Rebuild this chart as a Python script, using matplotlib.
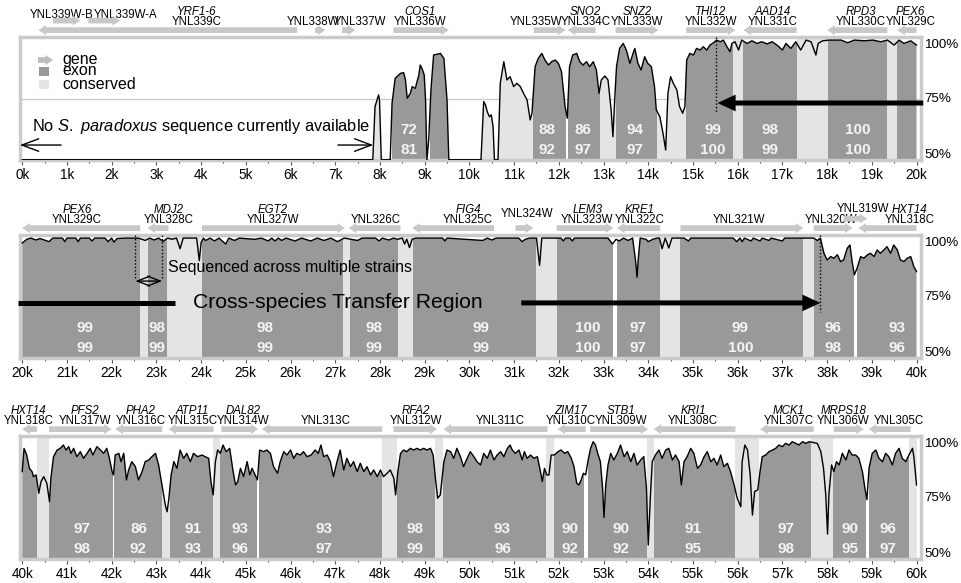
import numpy as np
import matplotlib
matplotlib.use("Agg")
import matplotlib.pyplot as plt
from matplotlib.patches import Polygon, Rectangle, FancyArrowPatch
from matplotlib.transforms import blended_transform_factory

plt.rcParams['font.family'] = ['Liberation Sans', 'DejaVu Sans']
plt.rcParams['mathtext.fontset'] = 'custom'
plt.rcParams['mathtext.rm'] = 'Liberation Sans'
plt.rcParams['mathtext.it'] = 'Liberation Sans:italic'

DARK = '#999999'
LIGHT = '#e4e4e4'
TRACK = '#c8c8c8'

# % identity along the locus (kb, %); values under 50 sit on the floor
curve_0_20 = [
    (0, 49.6), (7.84, 49.6), (7.89, 72.0), (7.97, 76.9), (7.99, 74.8), (8.03, 49.6),
    (8.23, 49.6), (8.27, 73.4), (8.34, 83.9), (8.38, 84.6), (8.46, 86.0), (8.53, 86.3),
    (8.57, 83.2), (8.61, 75.5), (8.68, 77.6), (8.72, 80.4), (8.79, 79.7), (8.87, 85.3),
    (8.90, 89.5), (8.94, 88.1), (8.99, 85.3), (9.02, 74.8), (9.05, 49.6), (9.09, 57.9),
    (9.14, 79.0), (9.20, 93.7), (9.35, 94.4), (9.43, 92.3), (9.50, 74.8), (9.54, 49.6),
    (10.26, 49.6), (10.32, 74.1), (10.36, 72.7), (10.40, 69.8), (10.45, 67.7), (10.49, 68.5),
    (10.53, 63.5), (10.56, 49.6), (10.64, 49.6), (10.69, 81.8), (10.77, 90.9), (10.84, 83.2),
    (10.91, 84.6), (10.99, 80.4), (11.06, 81.8), (11.14, 80.4), (11.21, 77.6), (11.29, 74.8),
    (11.36, 66.4), (11.40, 69.2), (11.47, 88.8), (11.54, 92.3), (11.62, 94.4), (11.69, 91.6),
    (11.77, 89.5), (11.84, 90.9), (11.92, 91.6), (11.99, 90.2), (12.06, 86.7), (12.14, 72.0),
    (12.19, 67.1), (12.24, 88.8), (12.31, 93.7), (12.40, 94.4), (12.47, 90.9), (12.54, 89.5),
    (12.62, 90.9), (12.69, 88.8), (12.77, 90.9), (12.84, 87.4), (12.90, 77.6), (12.95, 83.2),
    (13.03, 84.9), (13.10, 83.2), (13.17, 70.6), (13.21, 59.3), (13.25, 74.8), (13.29, 88.8),
    (13.36, 96.5), (13.44, 98.6), (13.51, 95.8), (13.59, 90.2), (13.66, 94.4), (13.70, 96.5),
    (13.77, 90.2), (13.84, 87.4), (13.92, 93.0), (13.99, 90.2), (14.07, 88.8), (14.14, 80.4),
    (14.18, 70.6), (14.26, 67.7), (14.33, 60.8), (14.39, 53.7), (14.44, 77.6), (14.50, 84.6),
    (14.56, 81.8), (14.64, 79.0), (14.70, 72.0), (14.77, 69.2), (14.82, 72.0), (14.86, 91.6),
    (14.93, 94.4), (15.01, 93.7), (15.08, 96.5), (15.16, 95.8), (15.23, 97.2), (15.31, 95.8),
    (15.38, 97.9), (15.46, 98.9), (15.53, 100), (15.61, 99.3), (15.68, 100), (15.76, 97.2),
    (15.83, 95.1), (15.87, 98.6), (15.94, 99.3), (16.02, 95.8), (16.09, 100), (16.21, 98.6),
    (16.32, 99.7), (16.43, 98.6), (16.54, 99.3), (16.66, 98.4), (16.77, 99.3), (16.88, 97.9),
    (17.00, 95.8), (17.08, 98.6), (17.19, 96.5), (17.30, 99.3), (17.41, 95.8), (17.53, 100),
    (17.64, 99.3), (17.75, 93.7), (17.80, 98.6), (17.90, 99.7), (18.05, 100), (18.31, 100),
    (18.46, 98.9), (18.61, 100), (18.83, 99.7), (19.02, 100), (19.20, 99.3), (19.35, 100),
    (19.50, 97.9), (19.61, 100), (19.72, 98.6), (19.87, 99.7), (20.00, 97.9),
]

curve_20_40 = [
    (20.0, 97.9), (20.1, 99.5), (20.2, 100), (20.3, 99.2), (20.4, 99.8), (20.6, 98.5),
    (20.68, 100), (20.9, 100), (20.95, 98.5), (21.0, 100), (21.2, 100), (21.25, 98.5),
    (21.3, 100), (21.5, 100), (21.56, 98.8), (21.62, 100), (21.85, 100), (21.92, 98.5),
    (22.0, 100), (22.05, 98.3), (22.12, 99.8), (22.3, 100), (22.6, 100), (22.75, 99.0),
    (22.85, 100), (22.95, 99.2), (23.05, 100), (23.15, 98.6), (23.25, 100), (23.35, 99.5),
    (23.45, 100), (23.53, 95.5), (23.6, 100), (23.9, 100), (23.96, 90.5), (24.0, 98),
    (24.05, 100), (24.1, 99), (24.2, 100), (24.3, 98.8), (24.4, 100), (24.55, 97.5),
    (24.62, 100), (24.75, 99), (24.85, 100), (25.2, 99.5), (25.35, 100), (25.5, 98.8),
    (25.58, 100), (25.65, 98.8), (25.73, 100), (25.8, 99), (25.9, 100), (26.1, 98.8),
    (26.25, 100), (26.45, 98.8), (26.6, 100), (26.75, 99), (26.9, 100), (27.05, 98.5),
    (27.2, 100), (27.5, 99), (27.6, 100), (27.9, 100), (27.98, 98.8), (28.05, 100),
    (28.2, 99.2), (28.3, 100), (28.4, 99.5), (28.5, 100), (28.55, 97.5), (28.6, 99.5),
    (28.66, 96), (28.72, 99.5), (28.8, 100), (29.4, 100), (29.45, 98.8), (29.5, 100),
    (30.3, 99), (30.4, 100), (30.5, 99.2), (30.6, 100), (31.1, 100), (31.18, 98.5),
    (31.25, 99.5), (31.35, 100), (31.5, 100), (31.57, 88.5), (31.62, 100), (32.05, 100),
    (32.1, 98.8), (32.15, 100), (32.25, 100), (32.3, 98.8), (32.35, 100), (33.1, 100),
    (33.2, 97.5), (33.28, 99.5), (33.35, 98.8), (33.45, 100), (33.55, 99), (33.65, 100),
    (33.72, 90), (33.75, 83.5), (33.78, 92), (33.82, 100), (33.95, 99.5), (34.0, 98.5),
    (34.1, 99.5), (34.2, 100), (34.25, 100), (34.31, 95.5), (34.38, 100), (34.46, 95.8),
    (34.53, 100), (34.8, 100), (34.9, 98.8), (34.95, 100), (35.9, 100), (35.98, 98.5),
    (36.05, 100), (36.1, 98.5), (36.15, 100), (36.3, 98.8), (36.35, 100), (36.5, 98.8),
    (36.55, 100), (36.7, 99), (36.75, 100), (37.0, 98.8), (37.05, 100), (37.7, 100),
    (37.78, 99), (37.85, 100), (37.93, 93.6), (38.0, 90.8), (38.08, 92.2), (38.15, 91.5),
    (38.23, 93.0), (38.3, 90.1), (38.37, 90.8), (38.45, 95.7), (38.51, 97.1), (38.56, 90.1),
    (38.61, 84.5), (38.67, 87.3), (38.75, 92.2), (38.82, 91.5), (38.9, 92.9), (38.97, 93.6),
    (39.05, 92.2), (39.12, 95.0), (39.19, 93.6), (39.27, 95.0), (39.34, 96.4), (39.42, 93.6),
    (39.49, 97.1), (39.57, 95.0), (39.64, 90.8), (39.72, 90.1), (39.79, 91.5), (39.87, 92.2),
    (39.94, 88.0), (40.0, 85.9),
]

curve_40_60 = [
    (40.0, 86.3), (40.04, 96.1), (40.1, 93.3), (40.16, 87.7), (40.22, 86.3), (40.25, 84.2),
    (40.31, 84.9), (40.37, 77.2), (40.42, 82.1), (40.48, 84.2), (40.55, 81.4), (40.61, 73.6),
    (40.64, 83.5), (40.7, 92.6), (40.78, 95.4), (40.85, 96.1), (40.92, 97.5), (40.98, 95.4),
    (41.04, 96.8), (41.09, 94.0), (41.15, 96.1), (41.22, 92.6), (41.3, 94.7), (41.37, 91.9),
    (41.45, 94.0), (41.52, 96.1), (41.58, 93.3), (41.67, 96.8), (41.75, 95.4), (41.82, 94.0),
    (41.89, 96.1), (41.95, 91.9), (42.01, 86.3), (42.04, 84.9), (42.08, 93.3), (42.16, 94.0),
    (42.21, 90.5), (42.27, 94.0), (42.33, 82.8), (42.38, 87.0), (42.45, 90.5), (42.53, 88.4),
    (42.6, 82.8), (42.68, 86.3), (42.75, 90.5), (42.83, 91.2), (42.9, 92.6), (42.98, 94.0),
    (43.05, 89.1), (43.1, 83.5), (43.15, 77.9), (43.2, 72.2), (43.24, 69.4), (43.28, 75.1),
    (43.33, 84.9), (43.39, 90.5), (43.46, 87.7), (43.53, 95.4), (43.61, 91.9), (43.68, 94.0),
    (43.76, 90.5), (43.83, 94.0), (43.92, 92.6), (44.02, 93.3), (44.09, 92.6), (44.17, 91.9),
    (44.22, 82.1), (44.27, 76.5), (44.32, 90.5), (44.37, 95.4), (44.43, 94.0), (44.49, 97.5),
    (44.56, 94.7), (44.64, 96.1), (44.71, 87.0), (44.77, 80.7), (44.82, 82.1), (44.88, 87.7),
    (44.95, 84.2), (45.03, 90.5), (45.09, 84.9), (45.14, 87.7), (45.21, 84.9), (45.26, 82.8),
    (45.31, 95.4), (45.4, 94.7), (45.47, 95.4), (45.55, 94.0), (45.62, 88.4), (45.71, 85.6),
    (45.77, 90.5), (45.85, 94.7), (45.92, 93.3), (46.0, 95.4), (46.07, 91.9), (46.14, 94.0),
    (46.22, 93.3), (46.29, 94.7), (46.37, 92.6), (46.46, 93.3), (46.55, 95.4), (46.62, 94.0),
    (46.68, 97.5), (46.74, 92.6), (46.82, 93.3), (46.89, 90.5), (46.96, 84.2), (47.04, 90.5),
    (47.11, 95.4), (47.19, 87.0), (47.26, 91.9), (47.34, 88.4), (47.41, 90.5), (47.49, 86.3),
    (47.56, 89.8), (47.64, 86.3), (47.71, 88.4), (47.79, 84.9), (47.86, 87.0), (47.94, 84.2),
    (48.01, 87.0), (48.08, 84.2), (48.16, 85.6), (48.23, 87.0), (48.31, 83.5), (48.35, 76.5),
    (48.4, 86.3), (48.46, 94.0), (48.53, 95.4), (48.6, 94.7), (48.68, 96.1), (48.75, 95.4),
    (48.83, 96.1), (48.9, 95.4), (48.98, 96.1), (49.05, 95.4), (49.13, 96.1), (49.19, 93.3),
    (49.24, 83.5), (49.29, 75.1), (49.35, 76.5), (49.43, 90.5), (49.5, 95.4), (49.58, 94.7),
    (49.65, 91.9), (49.72, 96.1), (49.8, 92.6), (49.87, 88.4), (49.95, 91.9), (50.02, 94.7),
    (50.1, 92.6), (50.17, 90.5), (50.25, 89.1), (50.32, 94.0), (50.4, 91.9), (50.47, 95.4),
    (50.55, 91.2), (50.62, 93.3), (50.7, 94.7), (50.77, 92.6), (50.85, 96.1), (50.91, 97.5),
    (50.96, 95.4), (51.03, 94.0), (51.11, 95.4), (51.18, 91.2), (51.23, 94.7), (51.29, 91.9),
    (51.37, 93.3), (51.44, 91.9), (51.52, 92.6), (51.59, 86.3), (51.63, 82.1), (51.68, 87.7),
    (51.73, 84.9), (51.78, 84.9), (51.83, 93.3), (51.9, 93.3), (51.98, 94.7), (52.05, 95.4),
    (52.13, 94.0), (52.2, 94.7), (52.28, 91.9), (52.34, 88.4), (52.4, 81.4), (52.45, 80.7),
    (52.5, 82.8), (52.55, 85.6), (52.6, 84.9), (52.65, 90.5), (52.71, 96.1), (52.77, 98.9),
    (52.82, 97.5), (52.87, 94.0), (52.93, 90.5), (52.98, 79.3), (53.01, 67.0), (53.05, 80.7),
    (53.1, 89.1), (53.16, 94.0), (53.23, 91.2), (53.31, 94.0), (53.38, 97.5), (53.46, 92.6),
    (53.53, 94.7), (53.61, 90.5), (53.68, 94.0), (53.75, 89.1), (53.83, 91.2), (53.9, 92.6),
    (53.96, 79.3), (54.0, 55.4), (54.05, 76.5), (54.09, 90.5), (54.16, 93.3), (54.24, 95.4),
    (54.31, 91.9), (54.39, 95.4), (54.46, 96.1), (54.54, 91.2), (54.61, 93.3), (54.69, 90.5),
    (54.74, 80.7), (54.8, 90.5), (54.87, 92.6), (54.95, 96.1), (55.02, 94.0), (55.1, 87.7),
    (55.17, 89.1), (55.25, 92.6), (55.32, 94.7), (55.4, 90.5), (55.47, 91.9), (55.54, 89.1),
    (55.62, 93.3), (55.69, 88.4), (55.77, 89.8), (55.84, 86.3), (55.92, 80.7), (55.99, 75.1),
    (56.07, 71.5), (56.1, 90.5), (56.16, 97.5), (56.22, 95.4), (56.28, 84.9), (56.33, 68.0),
    (56.38, 77.9), (56.45, 78.6), (56.5, 86.3), (56.55, 92.6), (56.63, 93.3), (56.7, 94.7),
    (56.78, 95.4), (56.85, 96.1), (56.92, 97.5), (57.0, 96.8), (57.07, 98.2), (57.15, 97.5),
    (57.22, 98.9), (57.3, 98.2), (57.37, 97.5), (57.45, 98.9), (57.52, 98.2), (57.6, 98.9),
    (57.71, 98.5), (57.78, 98.2), (57.86, 94.7), (57.92, 87.7), (57.97, 76.5), (58.01, 60.0),
    (58.04, 76.5), (58.1, 89.1), (58.15, 86.3), (58.21, 90.5), (58.27, 89.1), (58.34, 94.0),
    (58.42, 91.2), (58.49, 95.4), (58.56, 93.3), (58.64, 93.3), (58.71, 91.9), (58.79, 86.3),
    (58.84, 80.0), (58.89, 74.5), (58.94, 88.0), (59.01, 94.0), (59.09, 95.4), (59.16, 91.9),
    (59.24, 90.5), (59.31, 94.0), (59.38, 92.6), (59.46, 89.1), (59.53, 94.0), (59.61, 96.1),
    (59.68, 91.9), (59.76, 90.5), (59.83, 93.3), (59.91, 96.1), (59.94, 92.6), (60.0, 80.7),
]

# exons (kb)
exons = [
    (8.28, 9.02), (9.13, 9.53), (11.43, 12.15), (12.21, 12.91), (13.27, 14.2),
    (14.85, 15.9), (16.13, 17.32), (18.03, 19.35), (19.57, 22.64), (22.82, 23.24),
    (24.03, 27.18), (27.32, 28.41), (28.75, 31.48), (31.95, 33.22), (33.31, 34.27),
    (34.72, 37.45), (37.7, 38.6), (38.66, 40.33), (40.6, 42.02), (42.06, 43.13),
    (43.31, 44.27), (44.43, 45.25), (45.3, 48.05), (48.39, 49.24), (49.4, 51.72),
    (51.9, 52.57), (52.66, 53.98), (54.12, 55.93), (56.47, 57.63), (58.14, 58.86),
    (58.93, 59.84),
]

# conserved non-coding blocks: full height, and shaded only under the curve
conserved = [
    (15.9, 16.13), (17.32, 18.03), (19.35, 19.57),
    (22.64, 22.82), (23.24, 24.03), (27.18, 27.32), (28.41, 28.75), (31.48, 31.95),
    (34.27, 34.72), (37.45, 37.7),
    (40.33, 40.6), (44.27, 44.43), (48.05, 48.39), (49.24, 49.4), (51.72, 51.9),
    (53.98, 54.12), (55.93, 56.47), (57.63, 58.14), (59.84, 60.0),
]
conserved_low = [(7.8, 8.1), (10.2, 11.45), (12.9, 13.3), (14.2, 14.86), (43.1, 43.32)]

# genes: start, end (kb), strand, track row
gene_start = [0.69, 1.48, 0.36, 6.55, 7.15, 8.30, 11.44, 12.20, 13.27, 14.85, 16.13, 18.00,
              19.57, 22.80, 24.02, 27.30, 28.72, 31.03, 31.95, 33.30, 34.72, 37.70, 38.37,
              38.70, 40.60, 42.08, 43.27, 44.45, 45.36, 48.30, 49.42, 51.97, 52.70, 54.12,
              56.50, 58.15, 58.93]
gene_end = [1.30, 2.19, 6.15, 6.78, 7.45, 9.54, 12.15, 12.82, 14.23, 15.95, 17.32, 19.35,
            22.64, 23.27, 27.22, 28.46, 30.55, 31.43, 33.22, 34.27, 37.47, 38.57, 38.90,
            40.33, 42.00, 43.13, 44.28, 45.28, 48.05, 49.28, 51.75, 52.60, 54.00, 55.95,
            57.70, 58.82, 59.87]
gene_strand = ['W', 'W', 'C', 'W', 'W', 'W', 'W', 'C', 'W', 'W', 'C', 'C',
               'C', 'C', 'W', 'C', 'C', 'W', 'W', 'C', 'W', 'W', 'W',
               'C', 'W', 'C', 'C', 'W', 'C', 'W', 'C', 'C', 'W', 'C',
               'C', 'W', 'C']
gene_row = [1, 1, 0, 0, 0, 0, 0, 0, 0, 0, 0, 0,
            0, 0, 0, 0, 0, 0, 0, 0, 0, 0, 1,
            0, 0, 0, 0, 0, 0, 0, 0, 0, 0, 0,
            0, 0, 0]

# gene name labels
lab_x = [0.88, 2.31, 3.9, 6.5, 7.56, 8.9, 11.5, 12.6, 13.76, 15.4, 16.78, 18.75, 19.87,
         21.22, 23.27, 25.6, 27.9, 29.97, 31.28, 32.64, 33.8, 36.02, 38.08, 38.8, 39.85,
         40.15, 41.4, 42.65, 43.81, 44.95, 46.78, 48.8, 50.7, 52.26, 53.4, 55.0, 57.14,
         58.37, 59.6]
lab_sys = ['YNL339W-B', 'YNL339W-A', 'YNL339C', 'YNL338W', 'YNL337W', 'YNL336W', 'YNL335W',
           'YNL334C', 'YNL333W', 'YNL332W', 'YNL331C', 'YNL330C', 'YNL329C',
           'YNL329C', 'YNL328C', 'YNL327W', 'YNL326C', 'YNL325C', 'YNL324W', 'YNL323W',
           'YNL322C', 'YNL321W', 'YNL320W', 'YNL319W', 'YNL318C',
           'YNL318C', 'YNL317W', 'YNL316C', 'YNL315C', 'YNL314W', 'YNL313C', 'YNL312W',
           'YNL311C', 'YNL310C', 'YNL309W', 'YNL308C', 'YNL307C', 'YNL306W', 'YNL305C']
lab_common = ['', '', 'YRF1-6', '', '', 'COS1', '', 'SNO2', 'SNZ2', 'THI12', 'AAD14', 'RPD3', 'PEX6',
              'PEX6', 'MDJ2', 'EGT2', '', 'FIG4', '', 'LEM3', 'KRE1', '', '', '', 'HXT14',
              'HXT14', 'PFS2', 'PHA2', 'ATP11', 'DAL82', '', 'RFA2', '', 'ZIM17', 'STB1',
              'KRI1', 'MCK1', 'MRPS18', '']
lab_lift = [2.8, 2.8, 0, 0, 0, 0, 0, 0, 0, 0, 0, 0, 0,
            0, 0, 0, 0, 0, 2.5, 0, 0, 0, 0, 4.4, 0,
            0, 0, 0, 0, 0, 0, 0, 0, 0, 0, 0, 0, 0, 0]

# identity per block: top / bottom numbers
num_x = [8.64, 11.74, 12.55, 13.71, 15.45, 16.72, 18.69,
         21.41, 23.02, 25.44, 27.86, 30.25, 32.64, 33.78, 36.06, 38.14, 39.57,
         41.34, 42.6, 43.82, 44.87, 46.74, 48.79, 50.74, 52.26, 53.38, 55.01, 57.07, 58.52, 59.37]
num_top = [72, 88, 86, 94, 99, 98, 100,
           99, 98, 98, 98, 99, 100, 97, 99, 96, 93,
           97, 86, 91, 93, 93, 98, 93, 90, 90, 91, 97, 90, 96]
num_bot = [81, 92, 97, 97, 100, 99, 100,
           99, 99, 99, 99, 99, 100, 97, 100, 98, 96,
           98, 92, 93, 96, 97, 99, 96, 92, 92, 95, 98, 95, 97]

pct_ticks = ['100%', '75%', '50%']
pct_tick_y = [98.0, 75.0, 51.6]

YBOT, YTOP = 49.5, 101.3


def gene_arrow(ax, a, b, strand, y, color=TRACK):
    body, head = 1.2, 2.1
    hl = min(0.17, b - a)
    if strand == 'W':
        pts = [(a, y - body), (b - hl, y - body), (b - hl, y - head), (b, y),
               (b - hl, y + head), (b - hl, y + body), (a, y + body)]
    else:
        pts = [(b, y - body), (a + hl, y - body), (a + hl, y - head), (a, y),
               (a + hl, y + head), (a + hl, y + body), (b, y + body)]
    ax.add_patch(Polygon(pts, closed=True, fc=color, ec='none', clip_on=False, zorder=4))


def thick_arrow(ax, x0, x1, y):
    ax.add_patch(FancyArrowPatch((x0, y), (x1, y), shrinkA=0, shrinkB=0, mutation_scale=10,
                                 arrowstyle='simple,head_length=1.3,head_width=1.2,tail_width=0.36',
                                 color='black', lw=0, clip_on=False, zorder=8))


def draw_panel(ax, lo, curve):
    hi = lo + 20
    kb, pct = np.array(curve).T
    ax.set_xlim(lo - 0.05, hi + 0.1)
    ax.set_ylim(YBOT, YTOP)

    # area under the identity curve, used to clip the shading
    shape = Polygon(np.column_stack([np.r_[kb[0], kb, kb[-1]], np.r_[YBOT, pct, YBOT]]),
                    closed=True, fc='none', ec='none')
    ax.add_patch(shape)

    for s, e in conserved:
        if e > lo and s < hi:
            ax.axvspan(max(s, lo), min(e, hi), color=LIGHT, lw=0, zorder=1)
    for s, e in conserved_low:
        if e > lo and s < hi:
            r = ax.axvspan(max(s, lo), min(e, hi), color=LIGHT, lw=0, zorder=1)
            r.set_clip_path(shape)
    for s, e in exons:
        if e > lo and s < hi:
            r = ax.axvspan(max(s, lo), min(e, hi), color=DARK, lw=0, zorder=2)
            r.set_clip_path(shape)
    ax.plot(kb, pct, color='black', lw=1.0, zorder=3)

    for x, t, b in zip(num_x, num_top, num_bot):
        if lo <= x < hi:
            ax.text(x, 62.0, str(t), color='#f4f4f4', fontsize=11, fontweight='bold',
                    ha='center', va='center', zorder=6)
            ax.text(x, 53.8, str(b), color='#f4f4f4', fontsize=11, fontweight='bold',
                    ha='center', va='center', zorder=6)

    # gene track above the box
    for s, e, st, row in zip(gene_start, gene_end, gene_strand, gene_row):
        a, b = max(s, lo), min(e, hi)
        if b > a:
            gene_arrow(ax, a, b, st, 104.2 if row == 0 else 108.2)
    for x, sname, cname, lift in zip(lab_x, lab_sys, lab_common, lab_lift):
        if lo <= x < hi:
            ax.text(x, 107.8 + lift, sname, fontsize=8.3, ha='center', va='center', clip_on=False)
            if cname:
                ax.text(x, 112.0, cname, fontsize=8.3, style='italic', ha='center',
                        va='center', clip_on=False)

    # frame, ticks and labels
    for sp in ax.spines.values():
        sp.set_color('#cbcbcb')
        sp.set_linewidth(2.5)
    ax.set_yticks([])
    ax.set_xticks(np.arange(lo, hi + 1))
    ax.set_xticklabels([f'{k}k' for k in range(lo, hi + 1)])
    ax.set_xticks(np.arange(lo + 0.5, hi, 1.0), minor=True)
    ax.tick_params(axis='x', which='major', length=3.5, width=0.8, color='#555555',
                   labelsize=9.8, pad=2)
    ax.tick_params(axis='x', which='minor', length=2.5, width=0.8, color='#555555')
    tr = blended_transform_factory(ax.transAxes, ax.transData)
    for lab, y in zip(pct_ticks, pct_tick_y):
        ax.text(1.004, y, lab, transform=tr, fontsize=9.6, ha='left', va='center')


fig = plt.figure(figsize=(9.61, 5.83), dpi=100)
left, width = 20 / 961, 901 / 961
height = 123 / 583
ax1 = fig.add_axes([left, 1 - 160 / 583, width, height])
ax2 = fig.add_axes([left, 1 - 358 / 583, width, height])
ax3 = fig.add_axes([left, 1 - 559 / 583, width, height])

ax1.axhline(75, color='#cccccc', lw=1, zorder=0.5)
draw_panel(ax1, 0, curve_0_20)
draw_panel(ax2, 20, curve_20_40)
draw_panel(ax3, 40, curve_40_60)

# legend inside the first panel
gene_arrow(ax1, 0.35, 0.69, 'W', 91.6, color='#bdbdbd')
ax1.add_patch(Rectangle((0.38, 84.9), 0.22, 3.8, fc=DARK, ec='none', zorder=4))
ax1.add_patch(Rectangle((0.38, 79.4), 0.22, 3.8, fc=LIGHT, ec='none', zorder=4))
for y, t in zip([91.8, 87.0, 81.4], ['gene', 'exon', 'conserved']):
    ax1.text(0.89, y, t, fontsize=11.5, ha='left', va='center', zorder=5)

ax1.text(0.22, 63.4, r'No $\mathit{S.\ paradoxus}$ sequence currently available',
         fontsize=11.8, ha='left', va='center', zorder=5)
thin = dict(arrowstyle='->,head_length=1.2,head_width=0.45', lw=1, color='black',
            shrinkA=0, shrinkB=0, mutation_scale=10)
ax1.annotate('', xy=(-0.05, 55.8), xytext=(0.87, 55.8), arrowprops=thin, annotation_clip=False)
ax1.annotate('', xy=(7.85, 55.8), xytext=(7.06, 55.8), arrowprops=thin, annotation_clip=False)

ax1.plot([15.52, 15.52], [YTOP, 69.3], ls=(0, (1, 1.5)), color='black', lw=1, zorder=7)
thick_arrow(ax1, 20.15, 15.55, 73.5)

# transfer region markers
for x in (22.53, 23.13):
    ax2.plot([x, x], [YTOP, 83.2], ls=(0, (1, 1.5)), color='black', lw=1, zorder=7)
ax2.annotate('', xy=(22.53, 81.9), xytext=(23.13, 81.9), annotation_clip=False,
             arrowprops=dict(arrowstyle='<->,head_length=0.9,head_width=0.35', lw=1,
                             color='black', shrinkA=0, shrinkB=0, mutation_scale=10))
ax2.text(23.26, 87.8, 'Sequenced across multiple strains', fontsize=11.5, ha='left',
         va='center', zorder=7)
ax2.plot([19.9, 23.42], [72.7, 72.7], color='black', lw=3.6, solid_capstyle='butt',
         clip_on=False, zorder=8)
ax2.text(23.82, 72.9, 'Cross-species Transfer Region', fontsize=15.2, ha='left',
         va='center', zorder=8)
thick_arrow(ax2, 31.16, 37.85, 72.7)
ax2.plot([37.85, 37.85], [YTOP, 68.9], ls=(0, (1, 1.5)), color='black', lw=1, zorder=7)

fig.savefig('out.png', dpi=100)
